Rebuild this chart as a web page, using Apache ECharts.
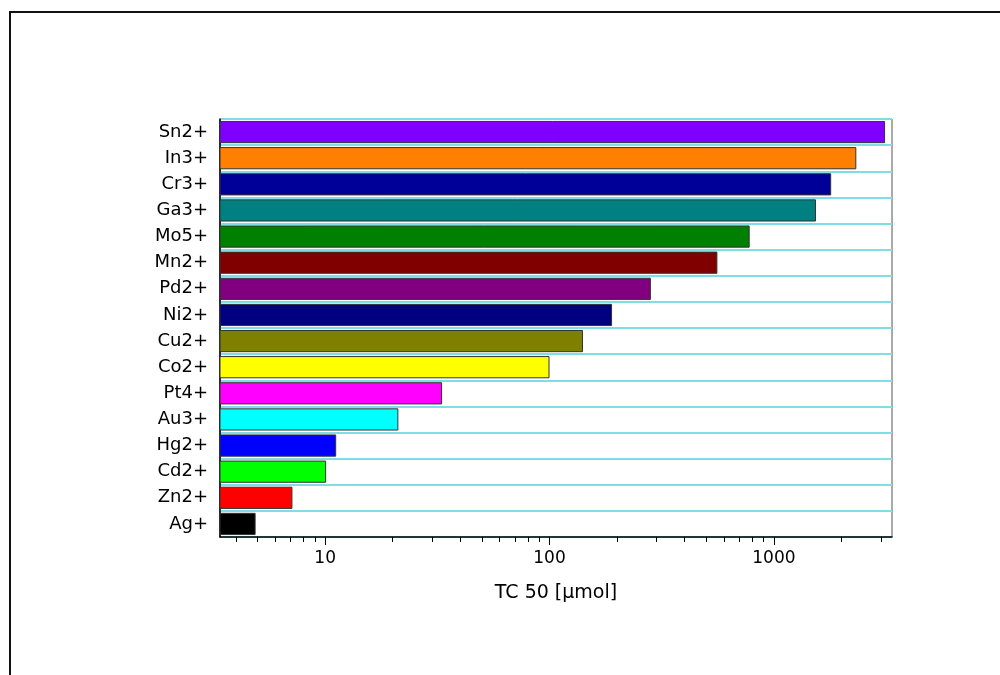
<!DOCTYPE html>
<html>
<head>
<meta charset="utf-8">
<script src="https://cdn.jsdelivr.net/npm/echarts@6/dist/echarts.min.js"></script>
<style>
  html, body { margin: 0; padding: 0; background: #fff; }
  #chart { width: 1000px; height: 675px; }
</style>
</head>
<body>
<div id="chart"></div>
<script>
  // top to bottom
  var ions = ['Sn2+', 'In3+', 'Cr3+', 'Ga3+', 'Mo5+', 'Mn2+', 'Pd2+', 'Ni2+',
              'Cu2+', 'Co2+', 'Pt4+', 'Au3+', 'Hg2+', 'Cd2+', 'Zn2+', 'Ag+'];
  var tc50 = [3130, 2330, 1800, 1540, 780, 560, 283, 190,
              141, 100, 33.2, 21.2, 11.2, 10.1, 7.15, 4.9];
  var barColors = ['#8000ff', '#ff8000', '#000099', '#008080', '#008000', '#800000', '#800080', '#000080',
                   '#808000', '#ffff00', '#ff00ff', '#00ffff', '#0000ff', '#00ff00', '#ff0000', '#000000'];
  var majorTicks = [10, 100, 1000];
  var minorTicks = [4, 5, 6, 7, 8, 9, 20, 30, 40, 50, 60, 70, 80, 90,
                    200, 300, 400, 500, 600, 700, 800, 900, 2000, 3000];

  var xMin = 3.4, xMax = 3360;

  var chart = echarts.init(document.getElementById('chart'));
  var option = {
    animation: false,
    graphic: [{
      type: 'rect',
      shape: { x: 10, y: 12, width: 1200, height: 900 },
      style: { fill: 'none', stroke: '#111', lineWidth: 2 },
      z: 100
    }],
    grid: {
      left: 220, right: 108, top: 119, bottom: 138,
      show: true, borderColor: '#555', borderWidth: 1
    },
    xAxis: [{
      type: 'log', min: xMin, max: xMax,
      name: 'TC 50 [µmol]', nameLocation: 'middle', nameGap: 47,
      nameTextStyle: { fontFamily: 'DejaVu Sans', fontSize: 19, color: '#000' },
      axisLine: { show: true, lineStyle: { color: '#000', width: 1.5 } },
      axisTick: { show: true, length: 8, customValues: majorTicks, lineStyle: { color: '#000' } },
      axisLabel: {
        customValues: majorTicks, margin: 13,
        fontFamily: 'DejaVu Sans', fontSize: 17, color: '#000',
        formatter: function (v) { return String(v); }
      },
      splitLine: { show: false }
    }, {
      type: 'log', min: xMin, max: xMax, position: 'bottom',
      axisLine: { show: false },
      axisTick: { show: true, length: 5, customValues: minorTicks, lineStyle: { color: '#000' } },
      axisLabel: { show: false },
      splitLine: { show: false }
    }],
    yAxis: {
      type: 'category', data: ions, inverse: true,
      axisLine: { show: true, lineStyle: { color: '#000', width: 1.5 } },
      axisTick: { show: false },
      axisLabel: { margin: 12, fontFamily: 'DejaVu Sans', fontSize: 18, color: '#000' },
      splitLine: { show: true, lineStyle: { color: '#7fdde6', width: 2 } }
    },
    series: [{
      type: 'bar',
      xAxisIndex: 0,
      barCategoryGap: '15%',
      data: tc50.map(function (v, i) {
        return { value: v, itemStyle: { color: barColors[i] } };
      }),
      itemStyle: { borderColor: '#333', borderWidth: 1 }
    }]
  };
  chart.setOption(option);
</script>
</body>
</html>
